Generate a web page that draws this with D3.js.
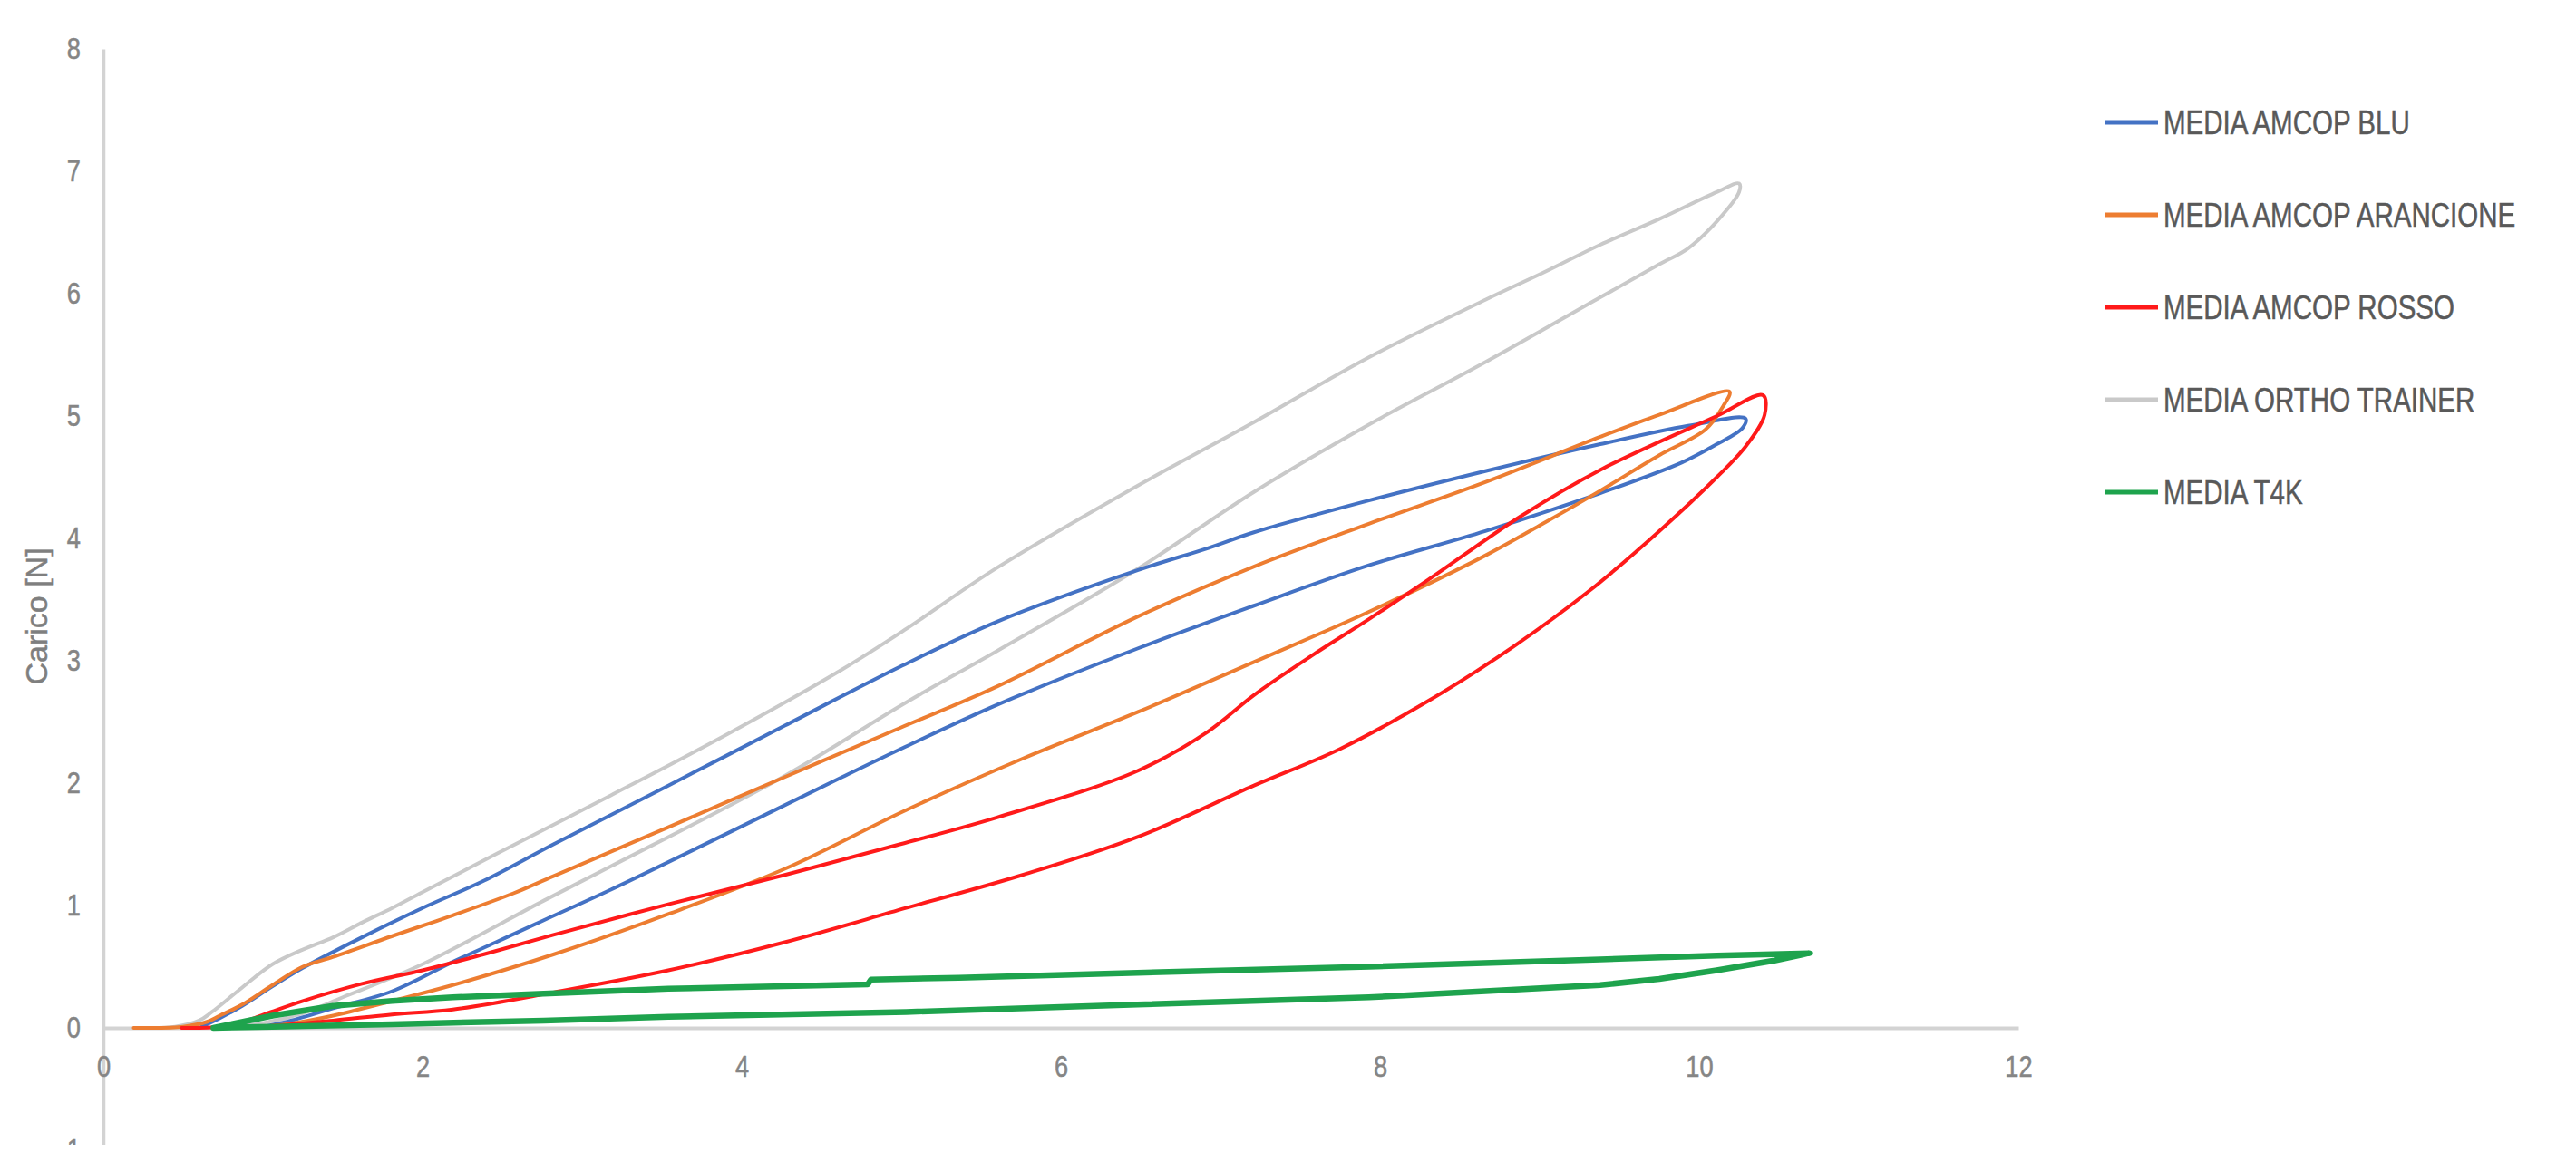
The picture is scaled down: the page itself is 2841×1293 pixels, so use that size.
<!DOCTYPE html>
<html>
<head>
<meta charset="utf-8">
<script src="https://cdn.jsdelivr.net/npm/d3@7"></script>
<style>
  html, body { margin: 0; padding: 0; background: #ffffff; }
  svg { display: block; }
</style>
</head>
<body>
<svg id="chart" width="2841" height="1293"></svg>
<script>
// ---------- data ----------
const xTicks = [0, 2, 4, 6, 8, 10, 12];
const yTicks = [-1, 0, 1, 2, 3, 4, 5, 6, 7, 8];
const yTitle = "Carico [N]";

const seriesNames = ["MEDIA AMCOP BLU", "MEDIA AMCOP ARANCIONE", "MEDIA AMCOP ROSSO", "MEDIA ORTHO TRAINER", "MEDIA T4K"];
const seriesColors = ["#4472c4", "#ed7d31", "#ff1a1a", "#c9c9c9", "#1ea34d"];

const bluData = [
  [0.60,0.00],[0.73,0.08],[0.87,0.18],[1.06,0.34],[1.25,0.49],[1.62,0.74],[2.00,0.98],[2.38,1.20],[2.82,1.50],
  [3.54,1.98],[4.27,2.47],[4.99,2.95],[5.60,3.32],[6.48,3.74],[6.92,3.92],[7.21,4.05],[7.93,4.31],
  [8.66,4.55],[9.38,4.77],[9.93,4.92],[10.29,4.98],[10.27,4.90],[10.11,4.77],[9.89,4.62],[9.38,4.37],
  [8.66,4.06],[7.93,3.78],[7.21,3.45],[6.48,3.10],[5.60,2.64],[5.03,2.30],[4.63,2.05],[3.91,1.59],
  [3.18,1.13],[2.76,0.88],[2.46,0.70],[2.19,0.54],[1.81,0.30],[1.44,0.16],[1.15,0.05],[1.00,0.01]
];
const aranData = [
  [0.19,0.00],[0.25,0.00],[0.50,0.01],[0.65,0.05],[0.73,0.10],[0.87,0.19],[1.06,0.35],[1.25,0.50],
  [1.44,0.58],[1.81,0.75],[2.19,0.92],[2.57,1.10],[2.82,1.24],[3.54,1.64],[4.27,2.05],[4.99,2.45],
  [5.60,2.79],[6.48,3.36],[7.21,3.77],[7.93,4.12],[8.66,4.46],[9.38,4.83],[9.75,5.01],
  [10.19,5.20],[10.15,5.08],[10.04,4.89],[9.75,4.68],[9.38,4.39],[9.02,4.12],[8.66,3.86],[7.93,3.40],
  [7.21,2.99],[6.48,2.58],[5.76,2.20],[5.03,1.78],[4.27,1.30],[3.54,0.93],[2.82,0.60],[2.19,0.35],
  [1.81,0.22],[1.44,0.10],[1.15,0.03],[1.00,0.01]
];
const rossoData = [
  [0.49,0.00],[0.73,0.01],[0.90,0.06],[1.05,0.13],[1.25,0.22],[1.62,0.36],[2.00,0.47],[2.38,0.60],
  [2.82,0.76],[3.54,1.01],[4.27,1.25],[4.99,1.50],[5.60,1.72],[6.48,2.10],[6.92,2.42],
  [7.21,2.72],[7.57,3.04],[7.93,3.34],[8.30,3.66],[8.88,4.18],[9.38,4.56],[10.11,5.00],[10.40,5.17],
  [10.41,5.01],[10.29,4.75],[10.11,4.50],[9.75,4.06],[9.31,3.57],[8.84,3.12],[8.30,2.67],[7.75,2.28],
  [7.21,1.98],[6.48,1.56],[5.76,1.25],[5.03,0.98],[4.27,0.70],[3.54,0.47],[2.82,0.29],[2.19,0.15],
  [1.81,0.11],[1.44,0.06],[1.10,0.02],[0.80,0.00]
];
const orthoData = [
  [0.30,0.00],[0.45,0.01],[0.60,0.06],[0.68,0.13],[0.87,0.33],[1.06,0.52],[1.25,0.64],[1.44,0.74],
  [1.62,0.86],[1.81,0.98],[2.00,1.11],[2.46,1.42],[3.18,1.90],[3.91,2.40],[4.63,2.93],[5.03,3.26],
  [5.60,3.76],[6.48,4.43],[7.21,4.95],[7.93,5.48],[8.66,5.95],[9.02,6.17],[9.38,6.40],[9.75,6.61],
  [10.11,6.83],[10.25,6.90],[10.25,6.83],[10.11,6.59],[9.93,6.37],[9.75,6.24],[9.38,5.97],[8.66,5.44],
  [7.93,4.93],[7.21,4.38],[6.48,3.75],[5.60,3.08],[5.03,2.66],[4.27,2.06],[3.18,1.32],[2.76,1.04],
  [2.00,0.52],[1.50,0.25],[1.25,0.12],[1.00,0.04],[0.70,0.00]
];
const t4kData = [
  [0.69,0.00],[0.80,0.03],[1.06,0.10],[1.44,0.18],[1.81,0.22],[2.19,0.25],[2.76,0.28],[3.54,0.32],
  [4.79,0.355],[4.81,0.395],[5.36,0.41],[6.48,0.45],[7.93,0.50],[9.38,0.56],[10.11,0.59],[10.69,0.61],
  [10.47,0.55],[10.11,0.47],[9.75,0.40],[9.38,0.35],[8.66,0.30],[7.93,0.25],[6.48,0.19],[5.03,0.13],
  [3.54,0.09],[2.76,0.06],[1.81,0.03],[1.06,0.01],[0.69,0.00]
];
const seriesData = [bluData, aranData, rossoData, orthoData, t4kData];
const seriesWidths = [4, 4, 4, 4, 6.5];

// ---------- layout ----------
const svg = d3.select("#chart");
const font = "'Liberation Sans', Arial, sans-serif";

function condense(sel, factor) {
  sel.each(function () {
    const w = this.getComputedTextLength();
    d3.select(this).attr("textLength", w * factor).attr("lengthAdjust", "spacingAndGlyphs");
  });
}

const x = d3.scaleLinear().domain([0, 12]).range([114, 2226]);
const y = d3.scaleLinear().domain([-1, 8]).range([1269, 54]);

svg.append("defs").append("clipPath").attr("id", "crop")
  .append("rect").attr("x", 0).attr("y", 0).attr("width", 2841).attr("height", 1263);

const g = svg.append("g").attr("clip-path", "url(#crop)");

// y axis
const yAxis = g.append("g")
  .attr("transform", `translate(${x(0)},0)`)
  .call(d3.axisLeft(y).tickValues(yTicks).tickSize(0).tickSizeOuter(0).tickPadding(25)
        .tickFormat(d => d < 0 ? "-" + Math.abs(d) : d));
yAxis.select(".domain").attr("stroke", "#d3d3d3").attr("stroke-width", 3.5);
yAxis.selectAll("text").attr("font-family", font).attr("font-size", 34)
  .attr("fill", "#858585").attr("stroke", "#858585").attr("stroke-width", 0.6)
  .call(condense, 0.8);

// x axis at y = 0
const xAxis = g.append("g")
  .attr("transform", `translate(0,${y(0)})`)
  .call(d3.axisBottom(x).tickValues(xTicks).tickSize(0).tickSizeOuter(0).tickPadding(30));
xAxis.select(".domain").attr("stroke", "#d3d3d3").attr("stroke-width", 4);
xAxis.selectAll("text").attr("font-family", font).attr("font-size", 34)
  .attr("fill", "#858585").attr("stroke", "#858585").attr("stroke-width", 0.6)
  .call(condense, 0.8);

// y title
g.append("text")
  .attr("transform", `translate(52,${(y(0) + y(8)) / 2 + 86}) rotate(-90)`)
  .attr("text-anchor", "middle")
  .attr("font-family", font)
  .attr("font-size", 34)
  .attr("fill", "#7f7f7f")
  .attr("stroke", "#7f7f7f").attr("stroke-width", 0.5)
  .text(yTitle);

// series
const smooth = d3.line().x(d => x(d[0])).y(d => y(d[1])).curve(d3.curveCatmullRom.alpha(0.5));
const straight = d3.line().x(d => x(d[0])).y(d => y(d[1]));
g.append("g").selectAll("path")
  .data([3, 0, 1, 2, 4])
  .join("path")
  .attr("d", i => (i === 4 ? straight : smooth)(seriesData[i]))
  .attr("fill", "none")
  .attr("stroke", i => seriesColors[i])
  .attr("stroke-width", i => seriesWidths[i])
  .attr("stroke-linejoin", "round")
  .attr("stroke-linecap", "round");

// legend
const legend = svg.append("g").attr("transform", "translate(2322,135)");
const items = legend.selectAll("g").data(seriesNames).join("g")
  .attr("transform", (d, i) => `translate(0,${i * 102})`);
items.append("line")
  .attr("x1", 0).attr("x2", 58).attr("y1", 0).attr("y2", 0)
  .attr("stroke", (d, i) => seriesColors[i]).attr("stroke-width", 5);
items.append("text")
  .attr("x", 64).attr("y", 0).attr("dy", "0.36em")
  .attr("font-family", font).attr("font-size", 36).attr("fill", "#595959")
  .attr("stroke", "#595959").attr("stroke-width", 0.5)
  .text(d => d)
  .call(condense, 0.82);
</script>
</body>
</html>
